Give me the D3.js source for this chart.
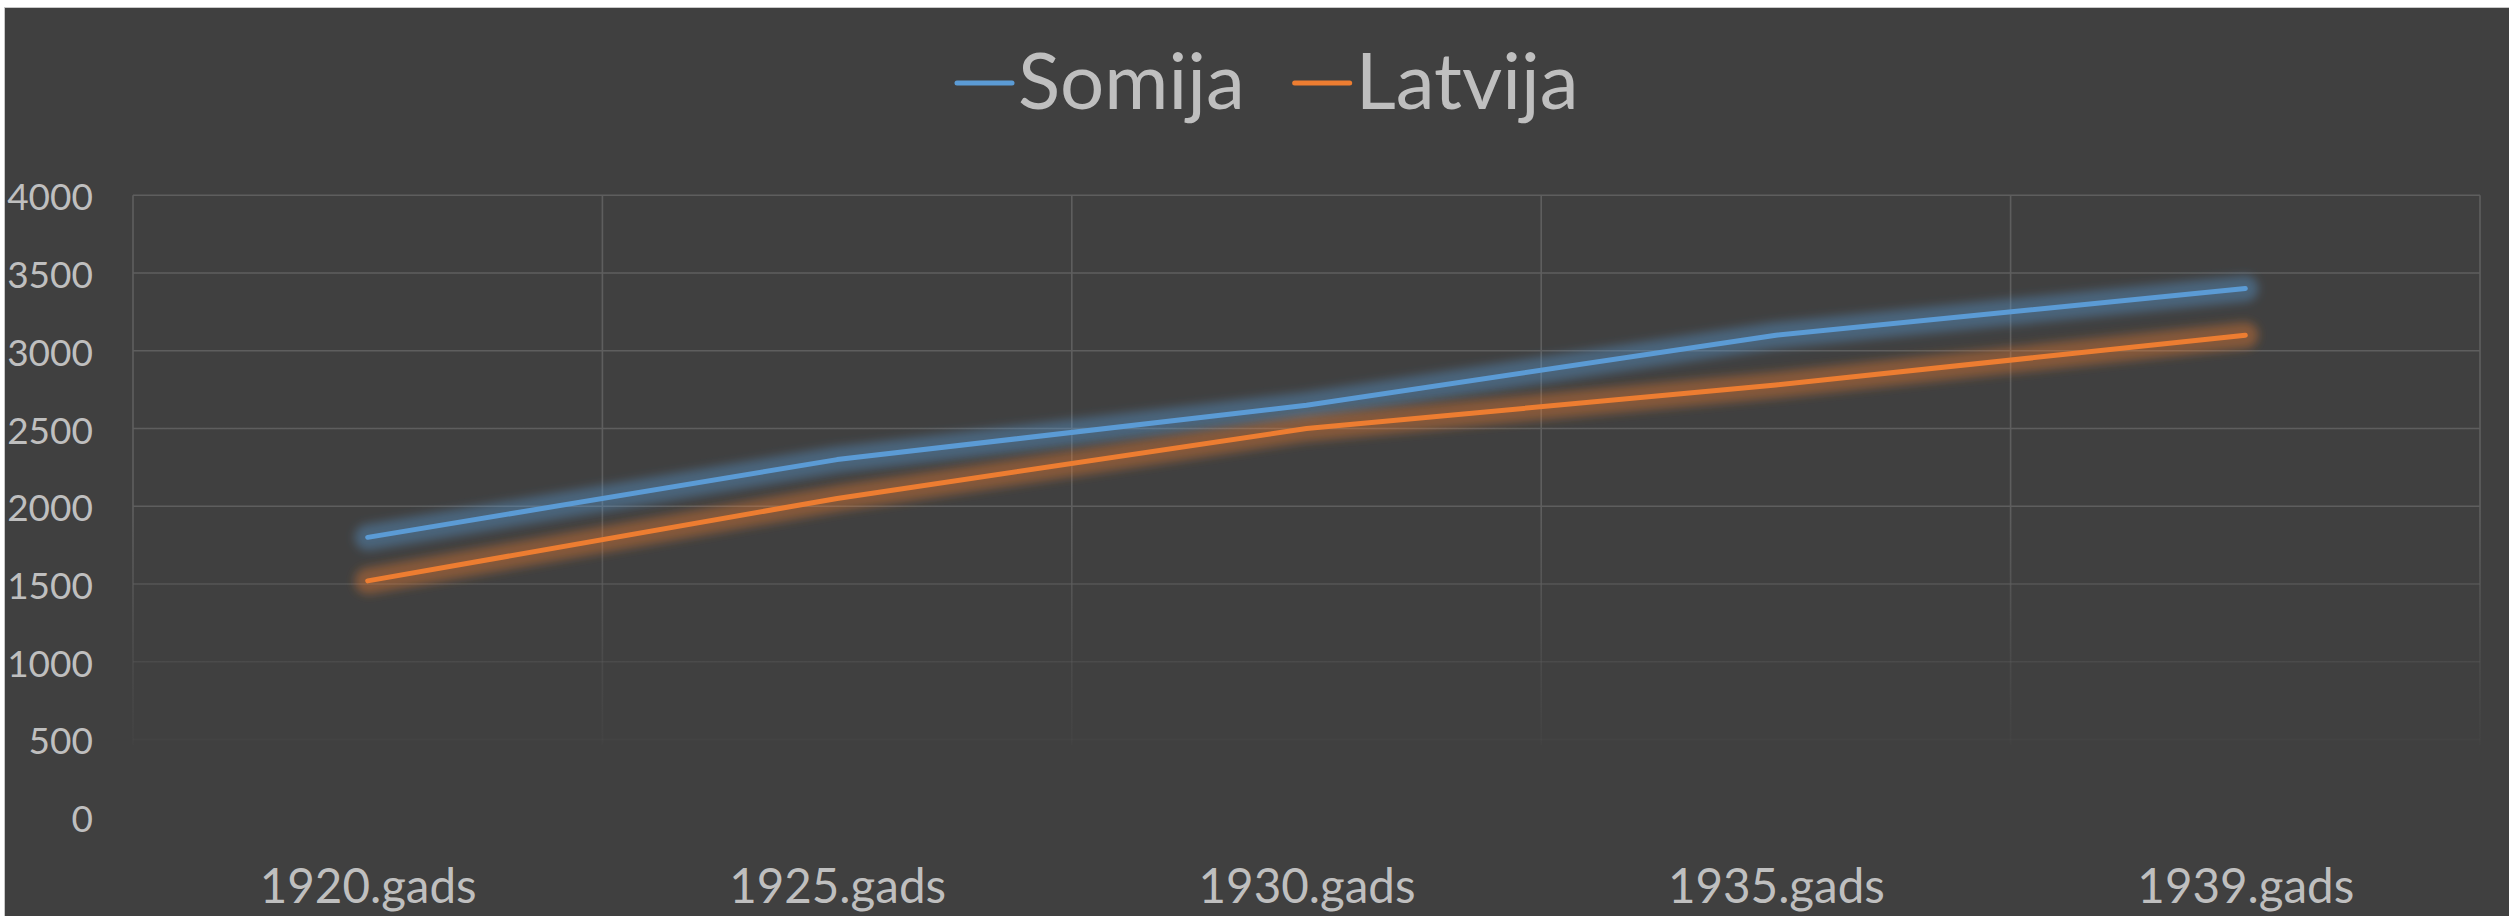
<!DOCTYPE html>
<html>
<head>
<meta charset="utf-8">
<script src="https://cdn.jsdelivr.net/npm/d3@7"></script>
<style>
  html, body { margin: 0; padding: 0; background: #ffffff; }
  svg { display: block; }
  text { font-family: Lato, "Open Sans", sans-serif; fill: #bfbfbf; }
</style>
</head>
<body>
<svg id="chart" width="2509" height="916"></svg>
<script>
// ---- data ----
const categories = ["1920.gads", "1925.gads", "1930.gads", "1935.gads", "1939.gads"];
const somija = [1800, 2300, 2650, 3100, 3400];
const latvija = [1520, 2050, 2500, 2780, 3100];
const seriesNames = ["Somija", "Latvija"];
const seriesColors = ["#5b9bd5", "#ed7d31"];
const yTicks = [0, 500, 1000, 1500, 2000, 2500, 3000, 3500, 4000];
const gridTicks = [500, 1000, 1500, 2000, 2500, 3000, 3500, 4000];

const W = 2509, H = 916;
const svg = d3.select("#chart");

// background
svg.append("rect").attr("x", 4.5).attr("y", 7.5).attr("width", W).attr("height", H)
  .attr("fill", "#404040").attr("stroke", "#c8c8c8").attr("stroke-width", 1);

const plot = { left: 133, right: 2480, top: 195.3, bottom: 745 };

const x = d3.scalePoint().domain(categories).range([plot.left, plot.right]).padding(0.5);
const xb = d3.scaleBand().domain(categories).range([plot.left, plot.right]).paddingInner(0).paddingOuter(0);
const y = d3.scaleLinear().domain([0, 4000]).range([817.2, plot.top]);

const defs = svg.append("defs");
// fading gridline gradient
const span = plot.bottom + 5 - plot.top;
const grad = defs.append("linearGradient").attr("id", "gridFade")
  .attr("gradientUnits", "userSpaceOnUse")
  .attr("x1", 0).attr("x2", 0).attr("y1", plot.top).attr("y2", plot.bottom + 5);
[[0, 1], [(510 - plot.top) / span, 1],
 [(584 - plot.top) / span, 0.7],
 [(662 - plot.top) / span, 0.35],
 [(740 - plot.top) / span, 0.1],
 [1, 0]].forEach(([o, a]) => {
  grad.append("stop").attr("offset", o).attr("stop-color", "#5e5e5e").attr("stop-opacity", a);
});

// glow filter
const f = defs.append("filter").attr("id", "glow")
  .attr("x", "-10%").attr("y", "-30%").attr("width", "120%").attr("height", "160%");
f.append("feGaussianBlur").attr("stdDeviation", 5);

// horizontal gridlines
const g = svg.append("g");
g.selectAll("line.h").data(gridTicks).join("line")
  .attr("x1", plot.left).attr("x2", plot.right)
  .attr("y1", d => y(d)).attr("y2", d => y(d))
  .attr("stroke", "url(#gridFade)").attr("stroke-width", 1.6);

// vertical gridlines (band boundaries incl. right edge)
const vx = categories.map(c => xb(c)).concat([plot.right]);
g.selectAll("line.v").data(vx).join("line")
  .attr("x1", d => d).attr("x2", d => d)
  .attr("y1", plot.top).attr("y2", plot.bottom)
  .attr("stroke", "url(#gridFade)").attr("stroke-width", 1.6);

// y axis
const yAxis = d3.axisLeft(y).tickValues(yTicks).tickSize(0).tickPadding(0).tickFormat(d3.format("d"));
const ya = svg.append("g").attr("transform", "translate(93,0)").call(yAxis);
ya.select(".domain").remove();
ya.selectAll("text").attr("font-size", 37).attr("dy", null).attr("dominant-baseline", "central")
  .style("font-family", "Lato, 'Open Sans', sans-serif").attr("fill", "#bfbfbf");

// x axis
const xAxis = d3.axisBottom(x).tickSize(0).tickPadding(0);
const xa = svg.append("g").attr("transform", "translate(0,903)").call(xAxis);
xa.select(".domain").remove();
xa.selectAll("text").attr("font-size", 47.5).attr("dy", null).attr("y", 0)
  .style("font-family", "Lato, 'Open Sans', sans-serif").attr("fill", "#bfbfbf");

// lines
const series = [somija, latvija];
const line = d3.line().x((d, i) => x(categories[i])).y(d => y(d));
series.forEach((vals, si) => {
  svg.append("path").datum(vals).attr("d", line)
    .attr("fill", "none").attr("stroke", seriesColors[si]).attr("stroke-opacity", 0.4)
    .attr("stroke-width", 26).attr("stroke-linejoin", "round").attr("stroke-linecap", "round")
    .attr("filter", "url(#glow)");
});
series.forEach((vals, si) => {
  svg.append("path").datum(vals).attr("d", line)
    .attr("fill", "none").attr("stroke", seriesColors[si])
    .attr("stroke-width", 5).attr("stroke-linejoin", "round").attr("stroke-linecap", "round");
});

// legend
const leg = svg.append("g");
let lx = 957;
const ly = 83;
seriesNames.forEach((name, i) => {
  leg.append("line").attr("x1", lx).attr("x2", lx + 55).attr("y1", ly).attr("y2", ly)
    .attr("stroke", seriesColors[i]).attr("stroke-width", 5).attr("stroke-linecap", "round");
  const t = leg.append("text").attr("x", lx + 61).attr("y", 109).attr("font-size", 78).text(name);
  const w = t.node().getComputedTextLength();
  lx = lx + 61 + w + 50;
});
</script>
</body>
</html>
